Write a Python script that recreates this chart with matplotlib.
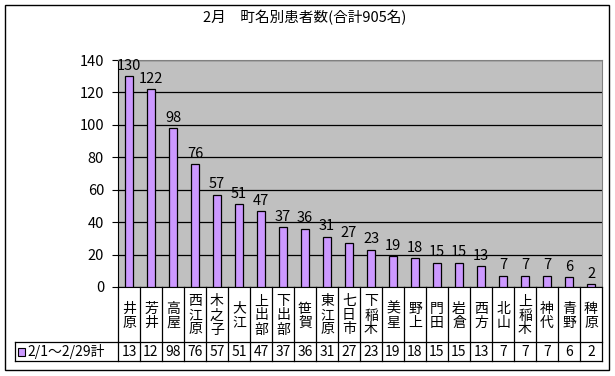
import matplotlib
matplotlib.use("Agg")
import matplotlib.pyplot as plt
from matplotlib.patches import Rectangle

plt.rcParams['font.family'] = ['Noto Sans CJK JP', 'DejaVu Sans']

title = "2月　町名別患者数(合計905名)"
towns = ["井原", "芳井", "高屋", "西江原", "木之子", "大江", "上出部", "下出部", "笹賀", "東江原",
         "七日市", "下稲木", "美星", "野上", "門田", "岩倉", "西方", "北山", "上稲木", "神代",
         "青野", "稗原"]
counts = [130, 122, 98, 76, 57, 51, 47, 37, 36, 31, 27, 23, 19, 18, 15, 15, 13, 7, 7, 7, 6, 2]
series_name = "2/1～2/29計"
yticks = [0, 20, 40, 60, 80, 100, 120, 140]

bar_color = "#CC99FF"
W, H = 615, 376

fig = plt.figure(figsize=(W / 100, H / 100), dpi=100)
fig.patch.set_facecolor("white")


def px_rect(x0, y0, x1, y1):
    # pixel box (top-left origin) -> figure fraction rect
    return [x0 / W, 1 - y1 / H, (x1 - x0) / W, (y1 - y0) / H]


# outer frame
fig.add_artist(Rectangle((5 / W, 1 - 370 / H), 604 / W, 365 / H, transform=fig.transFigure,
                         fill=False, edgecolor="black", linewidth=1.0))

fig.text(305 / W, 1 - 18 / H, title, ha="center", va="center", fontsize=10.5)

# plot area
pl, pr, pt, pb = 118, 602, 60, 287
ax = fig.add_axes(px_rect(pl, pt, pr, pb))
ax.set_facecolor("#C0C0C0")
n = len(towns)
x = list(range(n))
ax.bar(x, counts, width=0.38, color=bar_color, edgecolor="black", linewidth=0.9, zorder=3)
for xi, v in zip(x, counts):
    ax.text(xi, v + 2, str(v), ha="center", va="bottom", fontsize=10.5, zorder=4)
ax.set_xlim(-0.5, n - 0.5)
ax.set_ylim(0, 140)
ax.set_yticks(yticks)
ax.tick_params(axis="y", length=4, width=0.8, labelsize=10.5, pad=6)
ax.set_xticks([])
ax.yaxis.grid(True, color="black", linewidth=0.9, zorder=1)
ax.set_axisbelow(True)
for s in ["top", "right"]:
    ax.spines[s].set_color("#808080")
ax.spines["left"].set_color("black")
ax.spines["bottom"].set_color("black")

# data table under the plot, sharing the category spacing
tl, tb = 15, 361
unit = (pr - pl) / n
tax = fig.add_axes(px_rect(tl, pb, pr, tb))
tax.set_xlim(-0.5 - (pl - tl) / unit, n - 0.5)
tax.set_ylim(tb - pb, 0)
tax.axis("off")
row1 = 342 - pb
row2 = tb - pb
lw = 0.9
# horizontal lines
tax.plot([-0.5, n - 0.5], [row1, row1], color="black", lw=lw, clip_on=False)
tax.plot([-0.5 - (pl - tl) / unit, n - 0.5], [row2, row2], color="black", lw=lw, clip_on=False)
tax.plot([-0.5 - (pl - tl) / unit, -0.5], [row1, row1], color="black", lw=lw, clip_on=False)
tax.plot([-0.5 - (pl - tl) / unit] * 2, [row1, row2], color="black", lw=lw, clip_on=False)
for i in range(n + 1):
    tax.plot([i - 0.5, i - 0.5], [0, row2], color="black", lw=lw, clip_on=False)
for xi, name, v in zip(x, towns, counts):
    tax.text(xi, row1 / 2 + 1, "\n".join(name), ha="center", va="center",
             fontsize=10, linespacing=1.0)
    # the narrow cells clip three-digit numbers to their first two digits
    tax.text(xi, (row1 + row2) / 2, str(v)[:2], ha="center", va="center", fontsize=10)

# legend key in the value row
lx = -0.5 - (pl - tl) / unit
tax.add_patch(Rectangle((lx + 2.5 / unit, row1 + 6), 8 / unit, 8, facecolor=bar_color,
                        edgecolor="black", linewidth=0.8, clip_on=False))
tax.text(lx + 12 / unit, (row1 + row2) / 2, series_name, ha="left", va="center", fontsize=10)

fig.savefig("out.png", dpi=100)
